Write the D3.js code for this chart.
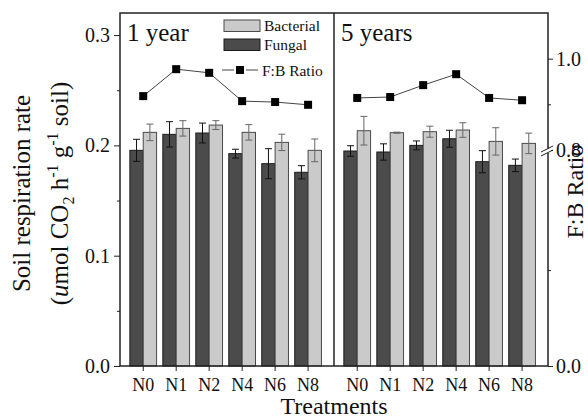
<!DOCTYPE html>
<html>
<head>
<meta charset="utf-8">
<script src="https://cdn.jsdelivr.net/npm/d3@7"></script>
<style>
  body { margin: 0; background: #fff; }
  text { font-family: "Liberation Serif", "Times New Roman", serif; fill: #111; }
</style>
</head>
<body>
<div id="chart"></div>
<script>
// categories and panels
const treatments = ["N0", "N1", "N2", "N4", "N6", "N8"];
const panelNames = ["1 year", "5 years"];

// 1 year
const fungal1 = [0.1955, 0.210, 0.2112, 0.1925, 0.1834, 0.1756];
const fungalErr1 = [0.010, 0.0115, 0.009, 0.004, 0.0136, 0.006];
const bacterial1 = [0.2118, 0.2154, 0.2184, 0.2118, 0.2027, 0.1955];
const bacterialErr1 = [0.0075, 0.007, 0.004, 0.007, 0.0074, 0.0103];
const ratio1 = [0.918, 0.977, 0.969, 0.907, 0.905, 0.899];

// 5 years
const fungal5 = [0.1949, 0.194, 0.200, 0.206, 0.1852, 0.1819];
const fungalErr5 = [0.0048, 0.0074, 0.004, 0.0077, 0.010, 0.0057];
const bacterial5 = [0.2133, 0.2115, 0.2124, 0.2139, 0.2036, 0.2018];
const bacterialErr5 = [0.013, 0.0005, 0.005, 0.0066, 0.0124, 0.0093];
const ratio5 = [0.914, 0.916, 0.942, 0.966, 0.914, 0.909];

// tick labels
const leftTicks = [0.0, 0.1, 0.2, 0.3];
const leftMinor = [0.05, 0.15, 0.25];
const rightTicks = [0.0, 0.8, 1.0];
const rightMinor = [0.1, 0.9];

function init(){
    const margin = { top: 13, right: 40, bottom: 52, left: 120 };
    const width = 588 - margin.left - margin.right;
    const height = 418 - margin.top - margin.bottom;
    const panelW = width / 2;

    const svg = d3.select("#chart")
                  .append("svg")
                  .attr("width", 588)
                  .attr("height", 418)
                  .append("g")
                  .attr("transform", `translate(${margin.left}, ${margin.top})`);

    const panels = [
        { name: panelNames[0], fungal: fungal1, fErr: fungalErr1, bacterial: bacterial1, bErr: bacterialErr1, ratio: ratio1 },
        { name: panelNames[1], fungal: fungal5, fErr: fungalErr5, bacterial: bacterial5, bErr: bacterialErr5, ratio: ratio5 }
    ];

    // scales
    const y = d3.scaleLinear().domain([0, 0.32]).range([height, 0]);
    // broken right axis: lower part 0..0.22, upper part 0.8..1.1
    const yR = d3.scaleLinear()
                 .domain([0, 0.22, 0.8, 1.1])
                 .range([height, height - 211, height - 216, 0]);

    const x = d3.scaleBand()
                .domain(treatments)
                .range([0, panelW])
                .paddingInner(0.19)
                .paddingOuter(0.34)
                .align(0.44);

    const xSub = d3.scaleBand()
                   .domain(["Fungal", "Bacterial"])
                   .range([0, x.bandwidth()]);

    const fill = { Fungal: "#4b4b4b", Bacterial: "#cacaca" };
    const edge = { Fungal: "#1a1a1a", Bacterial: "#4a4a4a" };
    const errColor = { Fungal: "#111", Bacterial: "#666" };

    const line = d3.line()
                   .x((d, i) => x(treatments[i]) + x.bandwidth() / 2)
                   .y(d => yR(d));

    panels.forEach((p, pi) => {
        const g = svg.append("g").attr("transform", `translate(${pi * panelW}, 0)`);

        const rows = treatments.map((t, i) => [
            { key: "Fungal", t: t, v: p.fungal[i], e: p.fErr[i] },
            { key: "Bacterial", t: t, v: p.bacterial[i], e: p.bErr[i] }
        ]).flat();

        g.selectAll(".bar")
         .data(rows)
         .enter()
         .append("rect")
         .attr("x", d => x(d.t) + xSub(d.key))
         .attr("y", d => y(d.v))
         .attr("width", xSub.bandwidth())
         .attr("height", d => height - y(d.v))
         .attr("fill", d => fill[d.key])
         .attr("stroke", d => edge[d.key])
         .attr("stroke-width", 1);

        // error bars
        const err = g.selectAll(".err")
                     .data(rows)
                     .enter()
                     .append("g")
                     .attr("stroke", d => errColor[d.key])
                     .attr("stroke-width", 1);
        const cx = d => x(d.t) + xSub(d.key) + xSub.bandwidth() / 2;
        err.append("line")
           .attr("x1", cx).attr("x2", cx)
           .attr("y1", d => y(d.v + d.e)).attr("y2", d => y(d.v - d.e));
        err.append("line")
           .attr("x1", d => cx(d) - 3.5).attr("x2", d => cx(d) + 3.5)
           .attr("y1", d => y(d.v + d.e)).attr("y2", d => y(d.v + d.e));
        err.append("line")
           .attr("x1", d => cx(d) - 3.5).attr("x2", d => cx(d) + 3.5)
           .attr("y1", d => y(d.v - d.e)).attr("y2", d => y(d.v - d.e));

        // F:B ratio line
        g.append("path")
         .datum(p.ratio)
         .attr("d", line)
         .attr("fill", "none")
         .attr("stroke", "#444")
         .attr("stroke-width", 1);

        g.selectAll(".pt")
         .data(p.ratio)
         .enter()
         .append("rect")
         .attr("x", (d, i) => x(treatments[i]) + x.bandwidth() / 2 - 4)
         .attr("y", d => yR(d) - 4)
         .attr("width", 8)
         .attr("height", 8)
         .attr("fill", "#000");

        // bottom axis
        const ax = g.append("g")
                    .attr("transform", `translate(0, ${height})`)
                    .call(d3.axisBottom(x).tickSize(5).tickPadding(7));
        ax.select(".domain").remove();
        ax.selectAll("line").attr("stroke", "#222");
        ax.selectAll("text").style("font-size", "18px").attr("fill", "#111");

        // panel label
        g.append("text")
         .attr("x", 7)
         .attr("y", 28)
         .style("font-size", "25px")
         .text(p.name);
    });

    // frame and divider
    svg.append("rect")
       .attr("width", width)
       .attr("height", height)
       .attr("fill", "none")
       .attr("stroke", "#222")
       .attr("stroke-width", 1.5);
    svg.append("line")
       .attr("x1", panelW).attr("x2", panelW)
       .attr("y1", 0).attr("y2", height)
       .attr("stroke", "#222")
       .attr("stroke-width", 1.5);

    // left axis
    const ly = svg.append("g")
                  .call(d3.axisLeft(y).tickValues(leftTicks).tickSize(6).tickPadding(4).tickFormat(d3.format(".1f")));
    ly.select(".domain").remove();
    ly.selectAll("line").attr("stroke", "#222");
    ly.selectAll("text").style("font-size", "20px").attr("fill", "#111");
    const lym = svg.append("g")
                   .call(d3.axisLeft(y).tickValues(leftMinor).tickSize(3).tickFormat(""));
    lym.select(".domain").remove();
    lym.selectAll("line").attr("stroke", "#222");

    // right axis
    const ry = svg.append("g")
                  .attr("transform", `translate(${width}, 0)`)
                  .call(d3.axisRight(yR).tickValues(rightTicks).tickSize(5).tickPadding(3).tickFormat(d3.format(".1f")));
    ry.select(".domain").remove();
    ry.selectAll("line").attr("stroke", "#222");
    ry.selectAll("text").style("font-size", "20px").attr("fill", "#111");
    const rym = svg.append("g")
                   .attr("transform", `translate(${width}, 0)`)
                   .call(d3.axisRight(yR).tickValues(rightMinor).tickSize(3).tickFormat(""));
    rym.select(".domain").remove();
    rym.selectAll("line").attr("stroke", "#222");

    // axis break marks
    const by = yR(0.8);
    svg.append("rect")
       .attr("x", width - 3).attr("y", by - 1)
       .attr("width", 6).attr("height", 4)
       .attr("fill", "#fff");
    [0, 4].forEach(off => {
        svg.append("line")
           .attr("x1", width - 7).attr("y1", by + 2 + off)
           .attr("x2", width + 5).attr("y2", by - 4 + off)
           .attr("stroke", "#222")
           .attr("stroke-width", 1);
    });

    // legend
    const legend = svg.append("g").attr("transform", "translate(104, 7)");
    [["Bacterial", 0], ["Fungal", 19]].forEach(([k, dy]) => {
        legend.append("rect")
              .attr("x", 0).attr("y", dy)
              .attr("width", 36).attr("height", 11.5)
              .attr("fill", fill[k])
              .attr("stroke", edge[k]);
        legend.append("text")
              .attr("x", 40).attr("y", dy + 11)
              .style("font-size", "15.5px")
              .text(k);
    });
    legend.append("line")
          .attr("x1", -2).attr("x2", 10).attr("y1", 50).attr("y2", 50)
          .attr("stroke", "#444");
    legend.append("line")
          .attr("x1", 22).attr("x2", 34).attr("y1", 50).attr("y2", 50)
          .attr("stroke", "#444");
    legend.append("rect")
          .attr("x", 12).attr("y", 46).attr("width", 8).attr("height", 8)
          .attr("fill", "#000");
    legend.append("text")
          .attr("x", 38).attr("y", 56)
          .style("font-size", "15.5px")
          .text("F:B Ratio");

    // axis titles
    svg.append("text")
       .attr("text-anchor", "middle")
       .attr("x", width / 2)
       .attr("y", height + 48)
       .style("font-size", "24px")
       .text("Treatments");

    svg.append("text")
       .attr("text-anchor", "middle")
       .attr("transform", `translate(${-90}, ${height / 2 + 4}) rotate(-90)`)
       .style("font-size", "25px")
       .text("Soil respiration rate");

    const t2 = svg.append("text")
                  .attr("text-anchor", "middle")
                  .attr("transform", `translate(${-52}, ${height / 2 + 4}) rotate(-90)`)
                  .style("font-size", "25px");
    t2.append("tspan").text("(");
    t2.append("tspan").style("font-style", "italic").text("u");
    t2.append("tspan").text("mol CO");
    t2.append("tspan").attr("dy", 6).style("font-size", "16px").text("2");
    t2.append("tspan").attr("dy", -6).text(" h");
    t2.append("tspan").attr("dy", -10).style("font-size", "16px").text("-1");
    t2.append("tspan").attr("dy", 10).text(" g");
    t2.append("tspan").attr("dy", -10).style("font-size", "16px").text("-1");
    t2.append("tspan").attr("dy", 10).text(" soil)");

    svg.append("text")
       .attr("text-anchor", "middle")
       .attr("transform", `translate(${width + 35}, ${height / 2 + 2}) rotate(-90)`)
       .style("font-size", "24px")
       .text("F:B Ratio");
}
window.onload = init;
</script>
</body>
</html>
